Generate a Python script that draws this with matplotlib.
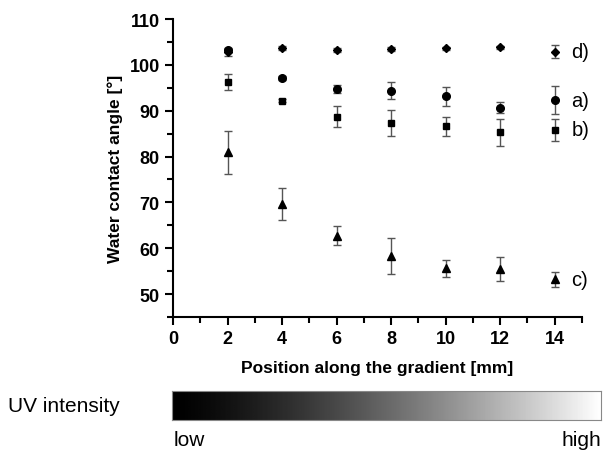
import matplotlib
matplotlib.use("Agg")
import matplotlib.pyplot as plt
import numpy as np
from matplotlib.ticker import MultipleLocator

plt.rcParams['font.family'] = ['Liberation Sans', 'DejaVu Sans']

# donnees
position = [2, 4, 6, 8, 10, 12, 14]
angle_a = [103.2, 97.1, 94.7, 94.4, 93.1, 90.7, 92.3]
err_a = [0.5, 0.4, 0.8, 1.8, 2.0, 1.2, 3.0]
angle_b = [96.2, 92.2, 88.7, 87.3, 86.6, 85.3, 85.8]
err_b = [1.75, 0.4, 2.3, 2.9, 2.1, 3.0, 2.5]
angle_c = [80.9, 69.6, 62.7, 58.3, 55.6, 55.4, 53.2]
err_c = [4.6, 3.45, 2.1, 3.9, 1.9, 2.65, 1.6]
angle_d = [102.7, 103.7, 103.3, 103.4, 103.6, 103.8, 102.9]
err_d = [0.8, 0.4, 0.4, 0.4, 0.4, 0.4, 1.4]
labels = ['a)', 'b)', 'c)', 'd)']

fig = plt.figure(figsize=(6.04, 4.56), dpi=100)
ax = fig.add_axes([0.2864, 0.3026, 0.677, 0.6535])

series = [(angle_a, err_a, 'o', 5.5), (angle_b, err_b, 's', 5),
          (angle_c, err_c, '^', 6), (angle_d, err_d, 'D', 4.5)]
for (y, e, m, ms), lab in zip(series, labels):
    ax.errorbar(position, y, yerr=e, fmt=m, color='black', markersize=ms,
                ecolor='#555555', elinewidth=1, capsize=3, capthick=1)
    ax.annotate(lab, (position[-1], y[-1]), xytext=(12, 0), textcoords='offset points',
                va='center', ha='left', fontsize=14.5, annotation_clip=False)

ax.set_xlim(0, 15)
ax.set_ylim(45, 110)
ax.xaxis.set_major_locator(MultipleLocator(2))
ax.xaxis.set_minor_locator(MultipleLocator(1))
ax.yaxis.set_minor_locator(MultipleLocator(5))
ax.set_yticks([50, 60, 70, 80, 90, 100, 110])
ax.spines['top'].set_visible(False)
ax.spines['right'].set_visible(False)
for s in ['left', 'bottom']:
    ax.spines[s].set_linewidth(1.5)
ax.tick_params(which='major', length=6, width=1.5, labelsize=13)
ax.tick_params(which='minor', length=4, width=1.5)
for t in ax.get_xticklabels() + ax.get_yticklabels():
    t.set_fontweight('bold')
ax.set_xlabel('Position along the gradient [mm]', fontweight='bold', fontsize=12.5, labelpad=9)
ax.set_ylabel('Water contact angle [°]', fontweight='bold', fontsize=12.5, labelpad=5)

# barre de gradient UV
bar = fig.add_axes([0.285, 0.077, 0.71, 0.064])
grad = np.linspace(0, 1, 256).reshape(1, -1)
bar.imshow(grad ** 1.3, aspect='auto', cmap='gray', vmin=0, vmax=1)
bar.set_xticks([])
bar.set_yticks([])
for s in bar.spines.values():
    s.set_color('#888888')
    s.set_linewidth(0.8)

fig.text(0.013, 0.108, 'UV intensity', fontsize=15, va='center')
fig.text(0.288, 0.033, 'low', fontsize=15, va='center')
fig.text(0.995, 0.033, 'high', fontsize=15, va='center', ha='right')

fig.savefig('out.png', dpi=100)
